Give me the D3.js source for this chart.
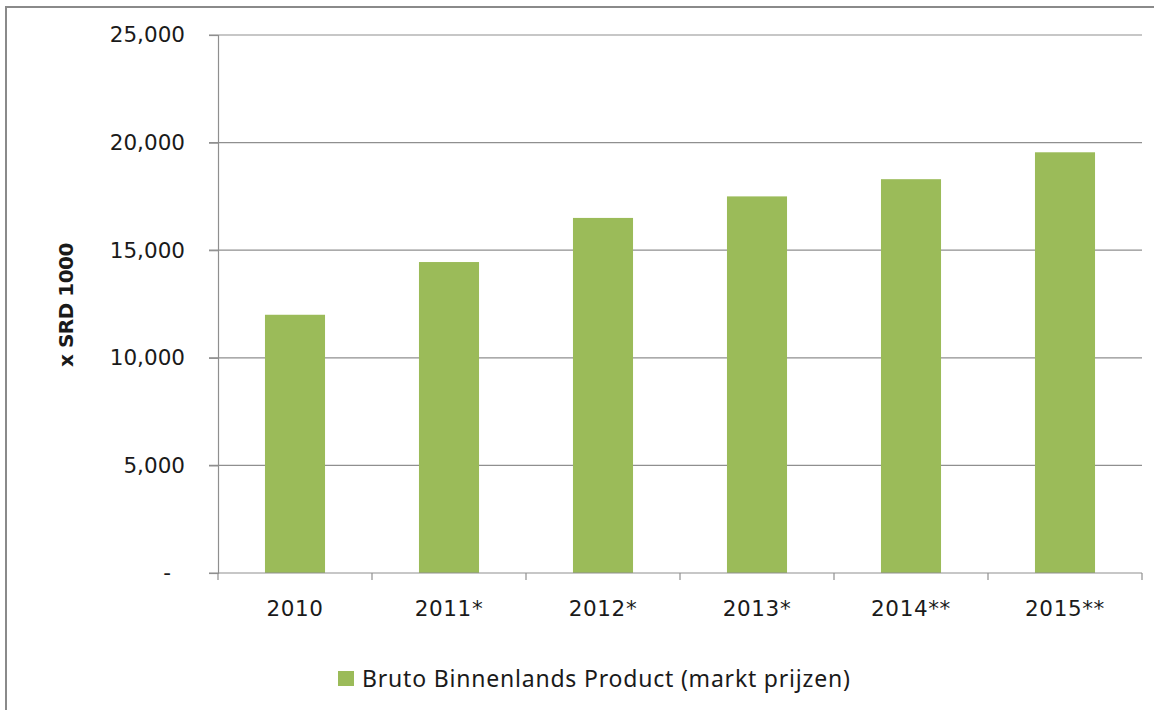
<!DOCTYPE html>
<html>
<head>
<meta charset="utf-8">
<script src="https://cdn.jsdelivr.net/npm/d3@7"></script>
<style>
  html, body { margin: 0; padding: 0; background: #fff; }
  svg { display: block; }
</style>
</head>
<body>
<svg id="chart" width="1154" height="710"></svg>
<script>
const categories = ["2010", "2011*", "2012*", "2013*", "2014**", "2015**"];
const values = [12000, 14450, 16500, 17500, 18300, 19550];
const yTicks = [0, 5000, 10000, 15000, 20000, 25000];
const seriesName = "Bruto Binnenlands Product (markt prijzen)";
const yTitle = "x SRD 1000";

(function () {
const svg = d3.select("#chart");
const plotLeft = 218, plotRight = 1142, plotTop = 35, plotBottom = 573;
const barColor = "#9BBB59";
const gridColor = "#8f8f8f";
const textColor = "#1a1a1a";

// frame
svg.append("path")
  .attr("d", "M6,710 L6,7 L1154,7")
  .attr("fill", "none")
  .attr("stroke", "#8a8a8a")
  .attr("stroke-width", 2);

const x = d3.scaleBand().domain(categories).range([plotLeft, plotRight]).paddingInner(0.61).paddingOuter(0.305);
const xTickScale = d3.scaleBand().domain(categories).range([plotLeft, plotRight]).padding(0);
const y = d3.scaleLinear().domain([0, 25000]).range([plotBottom, plotTop]);

// gridlines
svg.append("g").selectAll("line").data(yTicks.filter(d => d > 0)).join("line")
  .attr("x1", plotLeft - 9).attr("x2", plotRight)
  .attr("y1", d => y(d)).attr("y2", d => y(d))
  .attr("stroke", gridColor).attr("stroke-width", 1.2);

// y axis
const yAxis = d3.axisLeft(y).tickValues(yTicks).tickSize(9).tickPadding(24)
  .tickFormat(d => d === 0 ? "-" : d3.format(",")(d));
const gy = svg.append("g").attr("transform", `translate(${plotLeft},0)`).call(yAxis);
gy.select(".domain").attr("stroke", gridColor).attr("stroke-width", 1.2);
gy.selectAll(".tick line").attr("stroke", gridColor).attr("stroke-width", 1.2);
gy.selectAll(".tick text")
  .attr("fill", textColor)
  .style("font-family", "DejaVu Sans")
  .style("font-size", "21.5px");
gy.selectAll(".tick text").filter(d => d === 0).attr("dx", -14);

// bars
svg.append("g").selectAll("rect").data(values).join("rect")
  .attr("x", (d, i) => x(categories[i]))
  .attr("width", x.bandwidth())
  .attr("y", d => y(d))
  .attr("height", d => y(0) - y(d))
  .attr("fill", barColor);

// x axis
const gx = svg.append("g").attr("transform", `translate(0,${plotBottom})`);
gx.append("line").attr("x1", plotLeft - 9).attr("x2", plotRight).attr("y1", 0).attr("y2", 0)
  .attr("stroke", gridColor).attr("stroke-width", 1.2);
const boundaries = categories.map(c => xTickScale(c)).concat([plotRight]);
gx.selectAll("line.tk").data(boundaries).join("line").attr("class", "tk")
  .attr("x1", d => d).attr("x2", d => d).attr("y1", 0).attr("y2", 7)
  .attr("stroke", gridColor).attr("stroke-width", 1.2);
gx.selectAll("text").data(categories).join("text")
  .attr("x", d => xTickScale(d) + xTickScale.bandwidth() / 2)
  .attr("y", 43)
  .attr("text-anchor", "middle")
  .attr("fill", textColor)
  .style("font-family", "DejaVu Sans")
  .style("font-size", "21.5px")
  .style("letter-spacing", "0.6px")
  .text(d => d);

// y title
svg.append("text")
  .attr("transform", "translate(73,305) rotate(-90)")
  .attr("text-anchor", "middle")
  .attr("fill", textColor)
  .style("font-family", "DejaVu Sans")
  .style("font-weight", "bold")
  .style("font-size", "20px")
  .style("letter-spacing", "-0.5px")
  .text(yTitle);

// legend
const lg = svg.append("g").attr("transform", "translate(338,671)");
lg.append("rect").attr("x", 0).attr("y", 0).attr("width", 16).attr("height", 15).attr("fill", barColor);
lg.append("text").attr("x", 24).attr("y", 16)
  .attr("fill", textColor)
  .style("font-family", "Noto Sans")
  .style("font-size", "23px")
  .style("letter-spacing", "0.8px")
  .text(seriesName);
})();
</script>
</body>
</html>
